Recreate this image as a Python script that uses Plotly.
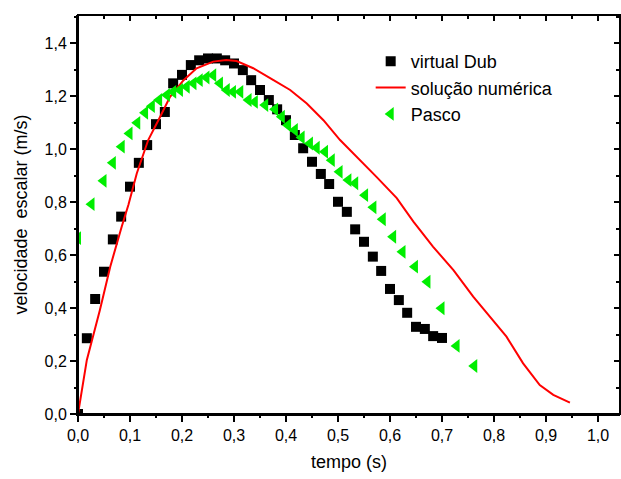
import plotly.graph_objects as go

# virtual Dub (black squares)
dub_t = [0.000, 0.017, 0.033, 0.050, 0.067, 0.083, 0.100, 0.117, 0.133, 0.150,
         0.167, 0.183, 0.200, 0.217, 0.233, 0.250, 0.267, 0.283, 0.300, 0.317,
         0.333, 0.350, 0.367, 0.383, 0.400, 0.417, 0.433, 0.450, 0.467, 0.483,
         0.500, 0.517, 0.533, 0.550, 0.567, 0.583, 0.600, 0.617, 0.633, 0.650,
         0.667, 0.683, 0.700]
dub_v = [0.000, 0.286, 0.434, 0.537, 0.659, 0.745, 0.858, 0.948, 1.015, 1.094,
         1.140, 1.248, 1.280, 1.317, 1.335, 1.342, 1.342, 1.335, 1.323, 1.298,
         1.260, 1.223, 1.185, 1.150, 1.109, 1.053, 1.003, 0.952, 0.906, 0.868,
         0.801, 0.763, 0.697, 0.650, 0.594, 0.540, 0.472, 0.430, 0.382, 0.329,
         0.321, 0.294, 0.287]

# solução numérica (red line)
num_t = [0.000, 0.017, 0.042, 0.062, 0.084, 0.097, 0.113, 0.135, 0.158, 0.177,
         0.203, 0.228, 0.260, 0.285, 0.305, 0.337, 0.376, 0.408, 0.440, 0.472,
         0.504, 0.536, 0.574, 0.613, 0.645, 0.683, 0.722, 0.760, 0.792, 0.824,
         0.856, 0.888, 0.914, 0.946]
num_v = [0.000, 0.204, 0.392, 0.556, 0.707, 0.790, 0.908, 1.034, 1.122, 1.197,
         1.260, 1.305, 1.330, 1.336, 1.332, 1.305, 1.260, 1.223, 1.172, 1.109,
         1.034, 0.971, 0.895, 0.815, 0.726, 0.631, 0.543, 0.443, 0.367, 0.292,
         0.191, 0.109, 0.072, 0.043]

# Pasco (green triangles)
pas_t = [0.000, 0.026, 0.049, 0.067, 0.084, 0.099, 0.114, 0.129, 0.142, 0.156,
         0.171, 0.183, 0.196, 0.209, 0.222, 0.234, 0.247, 0.260, 0.273, 0.286,
         0.298, 0.312, 0.328, 0.340, 0.360, 0.379, 0.392, 0.404, 0.417, 0.430,
         0.446, 0.459, 0.475, 0.488, 0.503, 0.520, 0.533, 0.552, 0.568, 0.586,
         0.606, 0.624, 0.648, 0.672, 0.699, 0.728, 0.762]
pas_v = [0.664, 0.792, 0.880, 0.948, 1.009, 1.059, 1.099, 1.137, 1.162, 1.185,
         1.204, 1.216, 1.223, 1.235, 1.248, 1.260, 1.270, 1.279, 1.248, 1.223,
         1.216, 1.216, 1.185, 1.178, 1.166, 1.150, 1.122, 1.090, 1.072, 1.044,
         1.021, 1.005, 0.990, 0.958, 0.914, 0.883, 0.871, 0.826, 0.780, 0.735,
         0.669, 0.612, 0.556, 0.499, 0.399, 0.257, 0.181]

FONT = "Liberation Sans, Arial, sans-serif"
XR = [0, 1.0423]
YR = [0, 1.506]

fig = go.Figure()
fig.add_trace(go.Scatter(x=dub_t, y=dub_v, mode="markers", name="virtual Dub",
                         marker=dict(symbol="square", size=10, color="black")))
fig.add_trace(go.Scatter(x=num_t, y=num_v, mode="lines", name="solução numérica",
                         line=dict(color="#ff0000", width=2)))
fig.add_trace(go.Scatter(x=pas_t, y=pas_v, mode="markers", name="Pasco",
                         marker=dict(symbol="triangle-left", size=12, color="#00ee00")))
# transparent helper traces so that the inside-tick / minor-tick axes get drawn
for xa, ya in [("x2", "y"), ("x3", "y"), ("x4", "y"), ("x", "y2"), ("x", "y3"), ("x", "y4")]:
    fig.add_trace(go.Scatter(x=[0.5], y=[0.5], xaxis=xa, yaxis=ya, mode="markers",
                             marker=dict(size=2, color="rgba(255,255,255,0)"),
                             showlegend=False))

base = dict(showgrid=False, zeroline=False, tickcolor="black", tickwidth=2, tick0=0)
tickfont = dict(family=FONT, size=16, color="black")

fig.update_layout(
    width=621, height=479,
    margin=dict(l=78, r=1, t=15, b=65),
    plot_bgcolor="white", paper_bgcolor="white",
    separators=",.",
    font=dict(family=FONT, color="black"),
    hovermode=False,
    xaxis=dict(range=XR, dtick=0.1, ticks="outside", ticklen=6, tickformat=".1f",
               tickfont=tickfont, automargin=False,
               showline=True, linecolor="black", linewidth=2,
               title=dict(text="tempo (s)", font=dict(family=FONT, size=18), standoff=12),
               **base),
    xaxis2=dict(range=XR, dtick=0.1, ticks="inside", ticklen=6, overlaying="x",
                side="top", anchor="y", showticklabels=False, **base),
    xaxis3=dict(range=XR, dtick=0.05, ticks="outside", ticklen=3, overlaying="x",
                side="bottom", anchor="y", showticklabels=False, **base),
    xaxis4=dict(range=XR, dtick=0.05, ticks="inside", ticklen=4, overlaying="x",
                side="top", anchor="y", showticklabels=False, **base),
    yaxis=dict(range=YR, dtick=0.2, ticks="outside", ticklen=6, tickformat=".1f",
               tickfont=tickfont, automargin=False,
               showline=True, linecolor="black", linewidth=2,
               title=dict(text="velocidade  escalar (m/s)", font=dict(family=FONT, size=18),
                          standoff=12),
               **base),
    yaxis2=dict(range=YR, dtick=0.2, ticks="inside", ticklen=6, overlaying="y",
                side="right", anchor="x", showticklabels=False, **base),
    yaxis3=dict(range=YR, dtick=0.1, ticks="outside", ticklen=3, overlaying="y",
                side="left", anchor="x", showticklabels=False, **base),
    yaxis4=dict(range=YR, dtick=0.1, ticks="inside", ticklen=4, overlaying="y",
                side="right", anchor="x", showticklabels=False, **base),
    legend=dict(x=0.54, y=0.93, xanchor="left", yanchor="top",
                bgcolor="rgba(0,0,0,0)", font=dict(family=FONT, size=18)),
    shapes=[dict(type="rect", xref="paper", yref="paper", x0=0, x1=1, y0=0, y1=1,
                 line=dict(color="black", width=2), layer="above")],
)

fig.write_html("out.html", config={"displayModeBar": False},
               post_script="document.body.style.margin='0';document.body.style.overflow='hidden';")
